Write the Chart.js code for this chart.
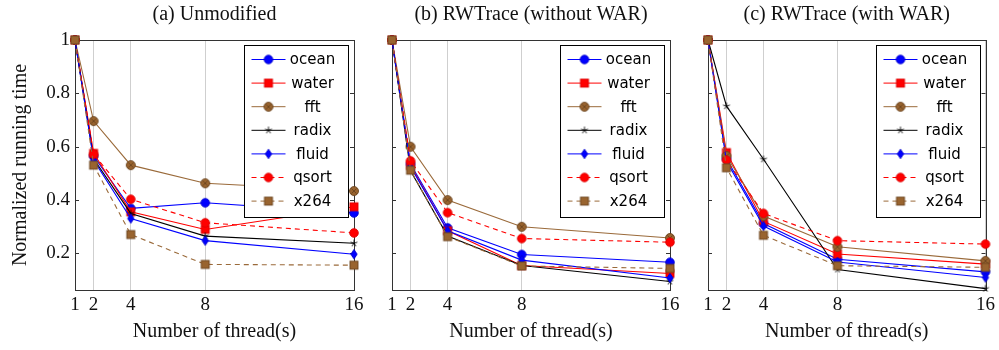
<!DOCTYPE html>
<html>
<head>
<meta charset="UTF-8">
<title>Normalized running time vs threads</title>
<script src="https://cdn.jsdelivr.net/npm/chart.js"></script>
<style>
  body { margin: 0; background: #fff; }
  #wrap { position: relative; width: 999px; height: 350px; }
  #wrap canvas { position: absolute; left: 0; top: 0; }
</style>
</head>
<body>
<div id="wrap">
  <canvas id="chartA" width="999" height="350"></canvas>
  <canvas id="chartB" width="999" height="350"></canvas>
  <canvas id="chartC" width="999" height="350"></canvas>
</div>
<script>
// x values and tick labels
var threads = [1, 2, 4, 8, 16];
var yTicks = [0.2, 0.4, 0.6, 0.8, 1];
var seriesNames = ['ocean', 'water', 'fft', 'radix', 'fluid', 'qsort', 'x264'];
var panelTitles = ['(a) Unmodified', '(b) RWTrace (without WAR)', '(c) RWTrace (with WAR)'];

// (a) Unmodified
var unmodOcean = [1, 0.565, 0.369, 0.39, 0.352];
var unmodWater = [1, 0.575, 0.356, 0.29, 0.375];
var unmodFft   = [1, 0.696, 0.531, 0.463, 0.434];
var unmodRadix = [1, 0.555, 0.35, 0.265, 0.238];
var unmodFluid = [1, 0.55, 0.331, 0.248, 0.197];
var unmodQsort = [1, 0.572, 0.403, 0.315, 0.277];
var unmodX264  = [1, 0.531, 0.271, 0.159, 0.156];

// (b) RWTrace without WAR
var noWarOcean = [1, 0.535, 0.296, 0.196, 0.167];
var noWarWater = [1, 0.53, 0.285, 0.155, 0.125];
var noWarFft   = [1, 0.6, 0.4, 0.3, 0.258];
var noWarRadix = [1, 0.51, 0.265, 0.155, 0.095];
var noWarFluid = [1, 0.525, 0.285, 0.175, 0.108];
var noWarQsort = [1, 0.547, 0.353, 0.256, 0.242];
var noWarX264  = [1, 0.512, 0.263, 0.153, 0.144];

// (c) RWTrace with WAR
var warOcean = [1, 0.555, 0.312, 0.178, 0.131];
var warWater = [1, 0.578, 0.32, 0.198, 0.16];
var warFft   = [1, 0.565, 0.34, 0.225, 0.172];
var warRadix = [1, 0.752, 0.553, 0.14, 0.068];
var warFluid = [1, 0.545, 0.303, 0.168, 0.11];
var warQsort = [1, 0.55, 0.35, 0.248, 0.235];
var warX264  = [1, 0.521, 0.268, 0.154, 0.148];

var BLUE = '#0000ff', RED = '#ff0000', BROWN = '#9a6a3a', BLACK = '#000000';
var BROWN_FILL = '#99642f', BROWN_EDGE = '#6a441f';

// small canvases used as point markers (also reused in the legend)
function makeMark(kind, fill, edge) {
  var c = document.createElement('canvas');
  c.width = 12; c.height = 12;
  var g = c.getContext('2d');
  g.fillStyle = fill; g.strokeStyle = edge; g.lineWidth = 0.9;
  if (kind === 'circle') {
    g.beginPath(); g.arc(6, 6, 4.3, 0, Math.PI * 2); g.fill(); g.stroke();
  } else if (kind === 'square') {
    g.fillRect(2, 2, 8, 8); g.strokeRect(2, 2, 8, 8);
  } else if (kind === 'otimes') {
    g.beginPath(); g.arc(6, 6, 4.5, 0, Math.PI * 2); g.fill(); g.stroke();
    g.beginPath();
    g.moveTo(3.4, 3.4); g.lineTo(8.6, 8.6);
    g.moveTo(8.6, 3.4); g.lineTo(3.4, 8.6);
    g.stroke();
  } else if (kind === 'star') {
    g.beginPath();
    for (var i = 0; i < 5; i++) {
      var a = -Math.PI / 2 + i * 2 * Math.PI / 5;
      g.moveTo(6, 6); g.lineTo(6 + 3.6 * Math.cos(a), 6 + 3.6 * Math.sin(a));
    }
    g.stroke();
  } else if (kind === 'diamond') {
    g.beginPath();
    g.moveTo(6, 1.3); g.lineTo(9.2, 6); g.lineTo(6, 10.7); g.lineTo(2.8, 6);
    g.closePath(); g.fill(); g.stroke();
  }
  return c;
}

var styles = {
  ocean: { color: BLUE, dash: [], mark: makeMark('circle', BLUE, '#0000cc') },
  water: { color: RED, dash: [], mark: makeMark('square', RED, '#dd0000') },
  fft:   { color: BROWN, dash: [], mark: makeMark('otimes', BROWN_FILL, BROWN_EDGE) },
  radix: { color: BLACK, dash: [], mark: makeMark('star', BLACK, BLACK) },
  fluid: { color: BLUE, dash: [], mark: makeMark('diamond', BLUE, '#0000cc') },
  qsort: { color: RED, dash: [5, 4], mark: makeMark('circle', RED, '#dd0000') },
  x264:  { color: BROWN, dash: [5, 4], mark: makeMark('square', BROWN_FILL, BROWN_EDGE) }
};

// box, inward y ticks and the legend inside the plot
var framePlugin = {
  id: 'frame',
  beforeDatasetsDraw: function (chart) {
    var a = chart.chartArea, ctx = chart.ctx, y = chart.scales.y;
    ctx.save();
    ctx.strokeStyle = '#333';
    ctx.lineWidth = 1;
    ctx.beginPath();
    yTicks.forEach(function (v) {
      var py = Math.round(y.getPixelForValue(v)) + 0.5;
      ctx.moveTo(a.left, py); ctx.lineTo(a.left + 4, py);
      ctx.moveTo(a.right, py); ctx.lineTo(a.right - 4, py);
    });
    ctx.stroke();
    ctx.strokeRect(Math.round(a.left) + 0.5, Math.round(a.top) + 0.5,
      Math.round(a.right - a.left), Math.round(a.bottom - a.top));
    ctx.restore();
  },
  afterDatasetsDraw: function (chart) {
    var a = chart.chartArea, ctx = chart.ctx;
    var w = 104, h = 172;
    var left = Math.round(a.right - 6 - w) + 0.5, top = Math.round(a.top + 5) + 0.5;
    ctx.save();
    ctx.fillStyle = '#fff';
    ctx.fillRect(left, top, w, h);
    ctx.strokeStyle = '#000';
    ctx.lineWidth = 1;
    ctx.strokeRect(left, top, w, h);
    ctx.font = '15px "DejaVu Sans"';
    ctx.textAlign = 'center';
    ctx.textBaseline = 'middle';
    seriesNames.forEach(function (name, i) {
      var st = styles[name];
      var cy = top + 14 + i * 23.6;
      ctx.strokeStyle = st.color;
      ctx.lineWidth = 1;
      ctx.setLineDash(st.dash);
      ctx.beginPath(); ctx.moveTo(left + 7, cy); ctx.lineTo(left + 41, cy); ctx.stroke();
      ctx.setLineDash([]);
      ctx.drawImage(st.mark, left + 24 - 6, cy - 6);
      ctx.fillStyle = '#000';
      ctx.fillText(name, left + 68, cy + 1);
    });
    ctx.restore();
  }
};

function buildDatasets(values) {
  return seriesNames.map(function (name, i) {
    var st = styles[name];
    return {
      label: name,
      data: threads.map(function (t, k) { return { x: t, y: values[i][k] }; }),
      borderColor: st.color,
      borderWidth: 1.1,
      borderDash: st.dash,
      pointStyle: st.mark,
      pointRadius: 4,
      pointHoverRadius: 4,
      fill: false,
      tension: 0,
      clip: false,
      order: seriesNames.length - i
    };
  });
}

var serif = 'Liberation Serif';

function makeChart(id, values, title, left, right, showY) {
  var ctx = document.getElementById(id).getContext('2d');
  return new Chart(ctx, {
    type: 'line',
    data: { datasets: buildDatasets(values) },
    plugins: [framePlugin],
    options: {
      responsive: false,
      animation: false,
      events: [],
      layout: { padding: { left: showY ? 0 : left, right: 999 - right, top: 0, bottom: 0 } },
      plugins: {
        legend: { display: false },
        tooltip: { enabled: false },
        title: {
          display: true,
          text: title,
          fullSize: false,
          color: '#111',
          font: { family: serif, size: 20, weight: 'normal', lineHeight: 1.2 },
          padding: { top: 3, bottom: 13 }
        }
      },
      scales: {
        x: {
          type: 'linear',
          min: 1,
          max: 16,
          afterBuildTicks: function (s) { s.ticks = threads.map(function (v) { return { value: v }; }); },
          afterFit: function (s) { s.height = 60; },
          border: { display: false },
          grid: { color: '#cfcfcf', lineWidth: 1, drawTicks: false },
          ticks: {
            autoSkip: false, maxRotation: 0, padding: 4, color: '#111',
            font: { family: serif, size: 19 },
            callback: function (v) { return String(v); }
          },
          title: {
            display: true,
            text: 'Number of thread(s)',
            color: '#111',
            font: { family: serif, size: 20, lineHeight: 1.2 },
            padding: { top: 0, bottom: 6 }
          }
        },
        y: {
          display: showY,
          min: 0.063,
          max: 1,
          afterBuildTicks: function (s) { s.ticks = yTicks.map(function (v) { return { value: v }; }); },
          afterFit: function (s) { s.width = showY ? left : 0; },
          border: { display: false },
          grid: { display: false, drawTicks: false },
          ticks: {
            padding: 5, color: '#111',
            font: { family: serif, size: 19 },
            callback: function (v) { return String(v); }
          },
          title: {
            display: true,
            text: 'Normalized running time',
            color: '#111',
            font: { family: serif, size: 20, lineHeight: 1.2 },
            padding: { top: 9, bottom: 0 }
          }
        }
      }
    }
  });
}

makeChart('chartA',
  [unmodOcean, unmodWater, unmodFft, unmodRadix, unmodFluid, unmodQsort, unmodX264],
  panelTitles[0], 75, 354, true);
makeChart('chartB',
  [noWarOcean, noWarWater, noWarFft, noWarRadix, noWarFluid, noWarQsort, noWarX264],
  panelTitles[1], 392, 670, false);
makeChart('chartC',
  [warOcean, warWater, warFft, warRadix, warFluid, warQsort, warX264],
  panelTitles[2], 708, 987, false);
</script>
</body>
</html>
